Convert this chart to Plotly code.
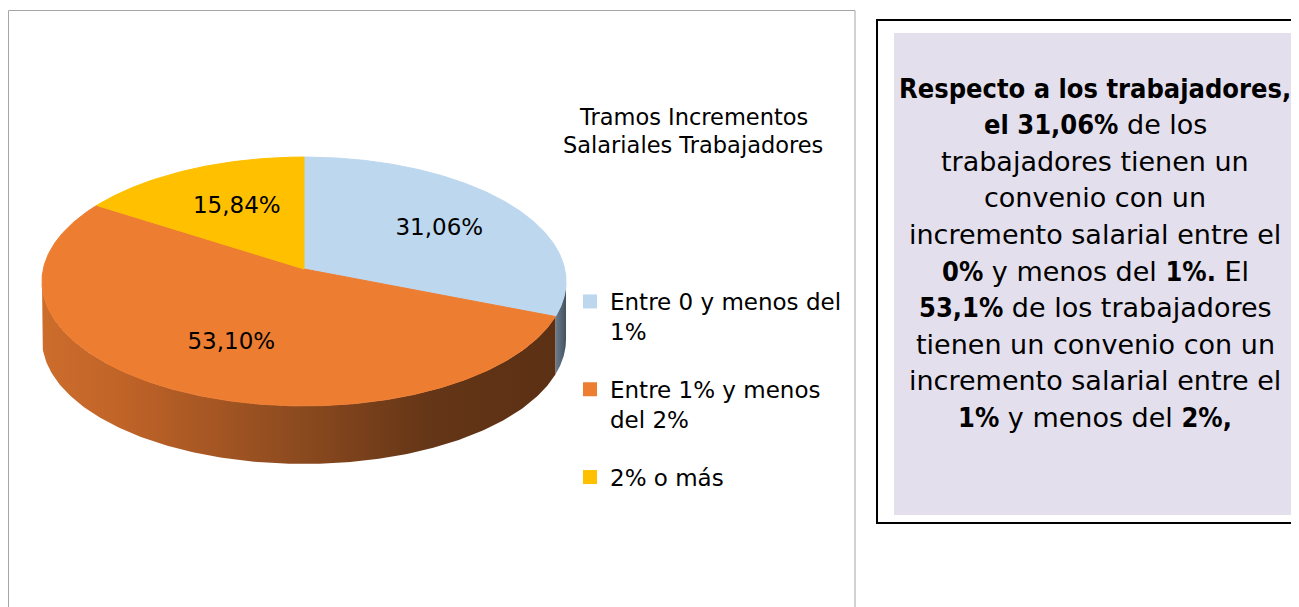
import numpy as np
import plotly.graph_objects as go

# ---------------- data ----------------
categories = ["Entre 0 y menos del 1%", "Entre 1% y menos del 2%", "2% o más"]
legend_labels = ["Entre 0 y menos del<br>1%", "Entre 1% y menos<br>del 2%", "2% o más"]
values = [31.06, 53.10, 15.84]
value_labels = ["31,06%", "53,10%", "15,84%"]
title_lines = ["Tramos Incrementos", "Salariales Trabajadores"]
box_lines = [
    "<B>Respecto a los trabajadores,</B>",
    "<B>el 31,06%</B> de los",
    "trabajadores tienen un",
    "convenio con un",
    "incremento salarial entre el",
    "<B>0%</B> y menos del <B>1%.</B> El",
    "<B>53,1%</B> de los trabajadores",
    "tienen un convenio con un",
    "incremento salarial entre el",
    "<B>1%</B> y menos del <B>2%,</B>",
]

# ---------------- style ----------------
top_colors = ["#BDD7EE", "#ED7D31", "#FFC000"]
side_scales = [
    [[0, "#6B7C8C"], [1, "#44525F"]],
    [[0, "#CC6D2C"], [0.15, "#C16428"], [0.5, "#8C4A1F"], [0.75, "#653617"], [1, "#5C3014"]],
    [[0, "#B38600"], [1, "#6E5200"]],
]
FONT = "DejaVu Sans"
BOLD_OPEN = '<span style="font-family:\'DejaVu Sans Condensed\';font-weight:bold">'

# page body has an 8px margin: map axis units to screen pixels
OFF = 8
W, H = 1299, 607 - OFF

# perspective ellipse geometry (screen pixels)
CX, CY = 304.0, 269.0
AX, DY, G = 260.7, 123.2, -0.1004
DEPTH = 58.0


def project(theta_deg, r=1.0):
    t = np.radians(theta_deg)
    x = r * np.sin(t)
    z = -r * np.cos(t)
    den = 1 + G * z
    return CX + AX * x / den, CY + DY * z / den


# silhouette angles (where the rim reaches its horizontal extremes)
ths = np.linspace(0, 360, 36001)
xs, _ = project(ths)
vis_lo = ths[np.argmax(xs)]
vis_hi = ths[np.argmin(xs)]

total = sum(values)
bounds = np.concatenate([[0], np.cumsum(values) / total * 360])

fig = go.Figure()

# sides
for i in range(len(values)):
    a0, a1 = max(bounds[i], vis_lo), min(bounds[i + 1], vis_hi)
    if a1 <= a0:
        continue
    t = np.linspace(a0, a1, 200)
    x, y = project(t)
    px = np.concatenate([x, x[::-1]])
    py = np.concatenate([y, (y + DEPTH)[::-1]])
    fig.add_trace(go.Scatter(
        x=px, y=py, mode="lines", fill="toself",
        line=dict(width=0), fillgradient=dict(type="horizontal", colorscale=side_scales[i]),
        hoverinfo="skip", showlegend=False))

# top faces
for i in range(len(values)):
    t = np.linspace(bounds[i], bounds[i + 1], 300)
    x, y = project(t)
    px = np.concatenate([[CX], x, [CX]])
    py = np.concatenate([[CY], y, [CY]])
    fig.add_trace(go.Scatter(
        x=px, y=py, mode="lines", fill="toself", fillcolor=top_colors[i],
        line=dict(width=1, color=top_colors[i]), hoverinfo="skip", showlegend=False))

# data labels
mids = (bounds[:-1] + bounds[1:]) / 2
lx, ly = project(mids, 0.62)
fig.add_trace(go.Scatter(
    x=lx + 6, y=ly + 2, mode="text", text=value_labels,
    textfont=dict(family=FONT, size=23, color="black"),
    hoverinfo="skip", showlegend=False))

# legend entries
for i, lab in enumerate(legend_labels):
    fig.add_trace(go.Scatter(
        x=[None], y=[None], mode="markers", name=lab, legendgroup=str(i),
        marker=dict(symbol="square", size=14, color=top_colors[i])))

shapes = [
    dict(type="rect", xref="x", yref="y", x0=8.5, y0=10.5, x1=855, y1=640,
         line=dict(color="#A6A6A6", width=1), layer="below"),
    dict(type="rect", xref="x", yref="y", x0=877, y0=20, x1=1310, y1=523,
         line=dict(color="black", width=2), fillcolor="white", layer="below"),
    dict(type="rect", xref="x", yref="y", x0=894, y0=33, x1=1296, y1=515,
         line=dict(width=0), fillcolor="#E4DFEC", layer="below"),
]

annotations = []
for k, line in enumerate(title_lines):
    annotations.append(dict(
        x=693, y=117 + k * 28, xref="x", yref="y", text=line, showarrow=False,
        font=dict(family=FONT, size=22.5, color="black"),
        xanchor="center", yanchor="middle"))
for k, line in enumerate(box_lines):
    txt = line.replace("<B>", BOLD_OPEN).replace("</B>", "</span>")
    annotations.append(dict(
        x=1095, y=88 + k * 36.6, xref="x", yref="y", text=txt, showarrow=False,
        font=dict(family=FONT, size=27, color="black"), xanchor="center", yanchor="middle"))

fig.update_layout(
    width=W, height=H, margin=dict(l=0, r=0, t=0, b=0),
    paper_bgcolor="white", plot_bgcolor="white",
    xaxis=dict(range=[OFF, OFF + W], visible=False, fixedrange=True),
    yaxis=dict(range=[OFF + H, OFF], visible=False, fixedrange=True),
    shapes=shapes, annotations=annotations,
    legend=dict(x=(570 - OFF) / W, y=1 - (280 - OFF) / H, xanchor="left", yanchor="top",
                font=dict(family=FONT, size=23, color="black"),
                valign="top", tracegroupgap=25, itemwidth=30,
                bgcolor="rgba(0,0,0,0)"),
    showlegend=True,
)

fig.write_html("out.html")
